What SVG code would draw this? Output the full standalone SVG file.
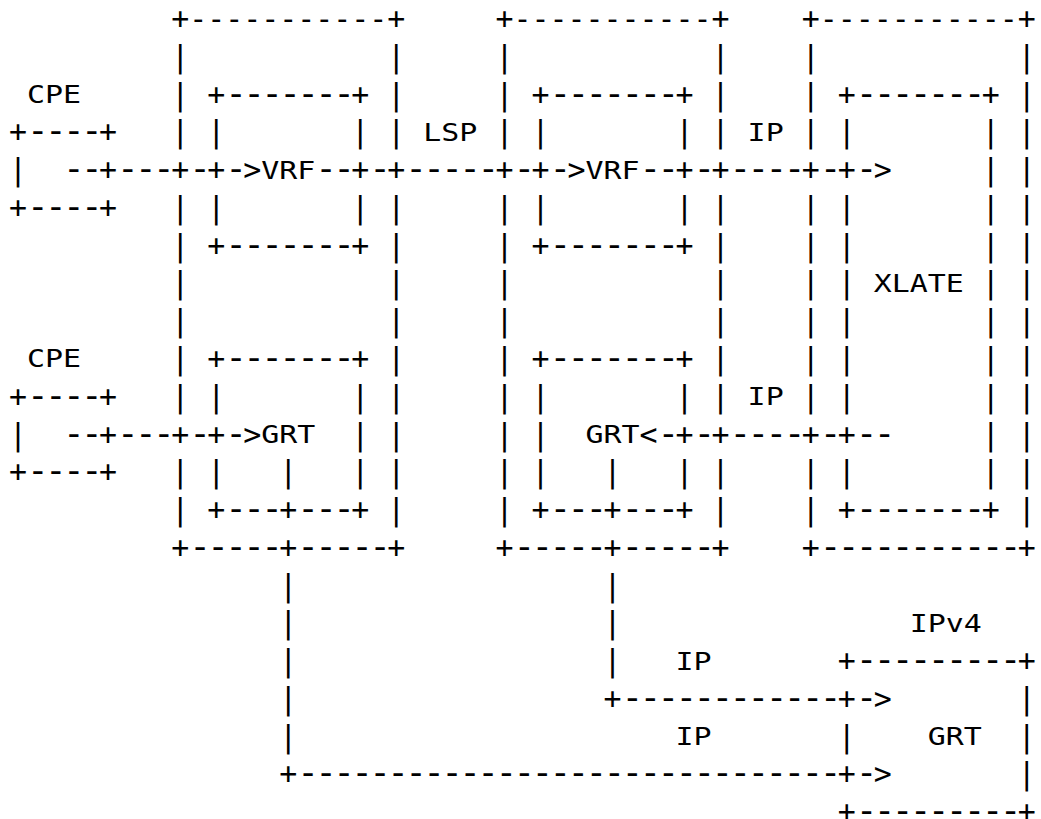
<svg xmlns="http://www.w3.org/2000/svg" width="1041" height="819" viewBox="0 0 1041 819" xml:space="preserve">
<style>
text { font-family: "DejaVu Sans Mono", "Liberation Mono", monospace; fill: #000; white-space: pre; }
.t { font-size: 29.92px; }
.h { font-size: 36px; letter-spacing: -3.66px; }
.l { font-size: 24.94px; }
</style>
<rect width="1041" height="819" fill="#fff"/>

<g id="cpe1">
<text class="l" transform="translate(27.02 102.98) scale(1.2 1)">CPE</text>
<text class="t" x="9" y="142.35">+<tspan class="h">----</tspan>+</text>
<text class="t" x="9" y="180.12">|</text>
<text class="t" x="9" y="217.89">+<tspan class="h">----</tspan>+</text>
</g>

<g id="cpe2">
<text class="l" transform="translate(27.02 367.37) scale(1.2 1)">CPE</text>
<text class="t" x="9" y="406.74">+<tspan class="h">----</tspan>+</text>
<text class="t" x="9" y="444.51">|</text>
<text class="t" x="9" y="482.28">+<tspan class="h">----</tspan>+</text>
</g>

<g id="pe1">
<text class="t" x="171.14" y="29.04">+-----------+</text>
<text class="t"><tspan x="171.14" y="66.81">|</tspan><tspan x="171.14" y="104.58">|</tspan><tspan x="171.14" y="142.35">|</tspan><tspan x="171.14" y="217.89">|</tspan><tspan x="171.14" y="255.66">|</tspan><tspan x="171.14" y="293.43">|</tspan><tspan x="171.14" y="331.2">|</tspan><tspan x="171.14" y="368.97">|</tspan><tspan x="171.14" y="406.74">|</tspan><tspan x="171.14" y="482.28">|</tspan><tspan x="171.14" y="520.05">|</tspan></text>
<text class="t"><tspan x="387.32" y="66.81">|</tspan><tspan x="387.32" y="104.58">|</tspan><tspan x="387.32" y="142.35">|</tspan><tspan x="387.32" y="217.89">|</tspan><tspan x="387.32" y="255.66">|</tspan><tspan x="387.32" y="293.43">|</tspan><tspan x="387.32" y="331.2">|</tspan><tspan x="387.32" y="368.97">|</tspan><tspan x="387.32" y="406.74">|</tspan><tspan x="387.32" y="444.51">|</tspan><tspan x="387.32" y="482.28">|</tspan><tspan x="387.32" y="520.05">|</tspan></text>
<text class="t" x="171.14" y="557.82">+<tspan class="h">-----</tspan></text>
<text class="t" x="297.24" y="557.82"><tspan class="h">-----</tspan>+</text>
<g id="vrf1">
<text class="t" x="207.17" y="104.58">+<tspan class="h">-------</tspan>+</text>
<text class="t"><tspan x="207.17" y="142.35">|</tspan><tspan x="351.29" y="142.35">|</tspan><tspan x="207.17" y="217.89">|</tspan><tspan x="351.29" y="217.89">|</tspan></text>
<text class="t" x="207.17" y="255.66">+<tspan class="h">-------</tspan>+</text>
<text class="l" transform="translate(261.21 178.52) scale(1.2 1)">VRF</text>
</g>
<g id="grt1">
<text class="t" x="207.17" y="368.97">+<tspan class="h">-------</tspan>+</text>
<text class="t"><tspan x="207.17" y="406.74">|</tspan><tspan x="351.29" y="406.74">|</tspan><tspan x="351.29" y="444.51">|</tspan><tspan x="207.17" y="482.28">|</tspan><tspan x="351.29" y="482.28">|</tspan></text>
<text class="t" x="207.17" y="520.05">+<tspan class="h">---</tspan></text>
<text class="t" x="297.24" y="520.05"><tspan class="h">---</tspan>+</text>
<text class="l" transform="translate(261.21 442.91) scale(1.2 1)">GRT</text>
</g>
</g>

<g id="pe2">
<text class="t" x="495.41" y="29.04">+-----------+</text>
<text class="t"><tspan x="495.41" y="66.81">|</tspan><tspan x="495.41" y="104.58">|</tspan><tspan x="495.41" y="142.35">|</tspan><tspan x="495.41" y="217.89">|</tspan><tspan x="495.41" y="255.66">|</tspan><tspan x="495.41" y="293.43">|</tspan><tspan x="495.41" y="331.2">|</tspan><tspan x="495.41" y="368.97">|</tspan><tspan x="495.41" y="406.74">|</tspan><tspan x="495.41" y="444.51">|</tspan><tspan x="495.41" y="482.28">|</tspan><tspan x="495.41" y="520.05">|</tspan></text>
<text class="t"><tspan x="711.59" y="66.81">|</tspan><tspan x="711.59" y="104.58">|</tspan><tspan x="711.59" y="142.35">|</tspan><tspan x="711.59" y="217.89">|</tspan><tspan x="711.59" y="255.66">|</tspan><tspan x="711.59" y="293.43">|</tspan><tspan x="711.59" y="331.2">|</tspan><tspan x="711.59" y="368.97">|</tspan><tspan x="711.59" y="406.74">|</tspan><tspan x="711.59" y="482.28">|</tspan><tspan x="711.59" y="520.05">|</tspan></text>
<text class="t" x="495.41" y="557.82">+<tspan class="h">-----</tspan></text>
<text class="t" x="621.51" y="557.82"><tspan class="h">-----</tspan>+</text>
<g id="vrf2">
<text class="t" x="531.44" y="104.58">+<tspan class="h">-------</tspan>+</text>
<text class="t"><tspan x="531.44" y="142.35">|</tspan><tspan x="675.56" y="142.35">|</tspan><tspan x="531.44" y="217.89">|</tspan><tspan x="675.56" y="217.89">|</tspan></text>
<text class="t" x="531.44" y="255.66">+<tspan class="h">-------</tspan>+</text>
<text class="l" transform="translate(585.48 178.52) scale(1.2 1)">VRF</text>
</g>
<g id="grt2">
<text class="t" x="531.44" y="368.97">+<tspan class="h">-------</tspan>+</text>
<text class="t"><tspan x="531.44" y="406.74">|</tspan><tspan x="675.56" y="406.74">|</tspan><tspan x="531.44" y="444.51">|</tspan><tspan x="531.44" y="482.28">|</tspan><tspan x="675.56" y="482.28">|</tspan></text>
<text class="t" x="531.44" y="520.05">+<tspan class="h">---</tspan></text>
<text class="t" x="621.51" y="520.05"><tspan class="h">---</tspan>+</text>
<text class="l" transform="translate(585.48 442.91) scale(1.2 1)">GRT</text>
</g>
</g>

<g id="xlate">
<text class="t" x="801.66" y="29.04">+-----------+</text>
<text class="t"><tspan x="801.66" y="66.81">|</tspan><tspan x="801.66" y="104.58">|</tspan><tspan x="801.66" y="142.35">|</tspan><tspan x="801.66" y="217.89">|</tspan><tspan x="801.66" y="255.66">|</tspan><tspan x="801.66" y="293.43">|</tspan><tspan x="801.66" y="331.2">|</tspan><tspan x="801.66" y="368.97">|</tspan><tspan x="801.66" y="406.74">|</tspan><tspan x="801.66" y="482.28">|</tspan><tspan x="801.66" y="520.05">|</tspan></text>
<text class="t"><tspan x="1017.84" y="66.81">|</tspan><tspan x="1017.84" y="104.58">|</tspan><tspan x="1017.84" y="142.35">|</tspan><tspan x="1017.84" y="180.12">|</tspan><tspan x="1017.84" y="217.89">|</tspan><tspan x="1017.84" y="255.66">|</tspan><tspan x="1017.84" y="293.43">|</tspan><tspan x="1017.84" y="331.2">|</tspan><tspan x="1017.84" y="368.97">|</tspan><tspan x="1017.84" y="406.74">|</tspan><tspan x="1017.84" y="444.51">|</tspan><tspan x="1017.84" y="482.28">|</tspan><tspan x="1017.84" y="520.05">|</tspan></text>
<text class="t" x="801.66" y="557.82">+<tspan class="h">-----------</tspan>+</text>
<text class="t" x="837.69" y="104.58">+<tspan class="h">-------</tspan>+</text>
<text class="t"><tspan x="837.69" y="142.35">|</tspan><tspan x="837.69" y="217.89">|</tspan><tspan x="837.69" y="255.66">|</tspan><tspan x="837.69" y="293.43">|</tspan><tspan x="837.69" y="331.2">|</tspan><tspan x="837.69" y="368.97">|</tspan><tspan x="837.69" y="406.74">|</tspan><tspan x="837.69" y="482.28">|</tspan></text>
<text class="t"><tspan x="981.81" y="142.35">|</tspan><tspan x="981.81" y="180.12">|</tspan><tspan x="981.81" y="217.89">|</tspan><tspan x="981.81" y="255.66">|</tspan><tspan x="981.81" y="293.43">|</tspan><tspan x="981.81" y="331.2">|</tspan><tspan x="981.81" y="368.97">|</tspan><tspan x="981.81" y="406.74">|</tspan><tspan x="981.81" y="444.51">|</tspan><tspan x="981.81" y="482.28">|</tspan></text>
<text class="t" x="837.69" y="520.05">+<tspan class="h">-------</tspan>+</text>
<text class="l" transform="translate(873.72 291.83) scale(1.2 1)">XLATE</text>
</g>

<g id="ipv4-grt">
<text class="l" transform="translate(909.75 631.76) scale(1.2 1)">IPv4</text>
<text class="t" x="837.69" y="671.13">+<tspan class="h">---------</tspan>+</text>
<text class="t"><tspan x="837.69" y="746.67">|</tspan><tspan x="1017.84" y="708.9">|</tspan><tspan x="1017.84" y="746.67">|</tspan><tspan x="1017.84" y="784.44">|</tspan></text>
<text class="t" x="837.69" y="822.21">+<tspan class="h">---------</tspan>+</text>
<text class="l" transform="translate(927.77 745.07) scale(1.2 1)">GRT</text>
</g>

<g id="connectors">
<text class="t" x="63.05" y="180.12"><tspan class="h">--</tspan>+<tspan class="h">---</tspan>+<tspan class="h">-</tspan>+<tspan class="h">-</tspan>&gt;</text>
<text class="t" x="315.26" y="180.12"><tspan class="h">--</tspan>+<tspan class="h">-</tspan>+<tspan class="h">-----</tspan>+<tspan class="h">-</tspan>+<tspan class="h">-</tspan>&gt;</text>
<text class="t" x="639.53" y="180.12"><tspan class="h">--</tspan>+<tspan class="h">-</tspan>+<tspan class="h">----</tspan>+<tspan class="h">-</tspan>+<tspan class="h">-</tspan>&gt;</text>
<text class="t" x="63.05" y="444.51"><tspan class="h">--</tspan>+<tspan class="h">---</tspan>+<tspan class="h">-</tspan>+<tspan class="h">-</tspan>&gt;</text>
<text class="t" x="639.53" y="444.51">&lt;<tspan class="h">-</tspan>+<tspan class="h">-</tspan>+<tspan class="h">----</tspan>+<tspan class="h">-</tspan>+<tspan class="h">--</tspan></text>
<text class="t"><tspan x="279.23" y="482.28">|</tspan><tspan x="279.23" y="520.05">+</tspan><tspan x="279.23" y="557.82">+</tspan><tspan x="279.23" y="595.59">|</tspan><tspan x="279.23" y="633.36">|</tspan><tspan x="279.23" y="671.13">|</tspan><tspan x="279.23" y="708.9">|</tspan><tspan x="279.23" y="746.67">|</tspan></text>
<text class="t" x="279.23" y="784.44">+<tspan class="h">------------------------------</tspan>+<tspan class="h">-</tspan>&gt;</text>
<text class="t"><tspan x="603.5" y="482.28">|</tspan><tspan x="603.5" y="520.05">+</tspan><tspan x="603.5" y="557.82">+</tspan><tspan x="603.5" y="595.59">|</tspan><tspan x="603.5" y="633.36">|</tspan><tspan x="603.5" y="671.13">|</tspan></text>
<text class="t" x="603.5" y="708.9">+<tspan class="h">------------</tspan>+<tspan class="h">-</tspan>&gt;</text>
<text class="l" transform="translate(423.35 140.75) scale(1.2 1)">LSP</text>
<text class="l" transform="translate(747.62 140.75) scale(1.2 1)">IP</text>
<text class="l" transform="translate(747.62 405.14) scale(1.2 1)">IP</text>
<text class="l" transform="translate(675.56 669.53) scale(1.2 1)">IP</text>
<text class="l" transform="translate(675.56 745.07) scale(1.2 1)">IP</text>
</g>
</svg>
